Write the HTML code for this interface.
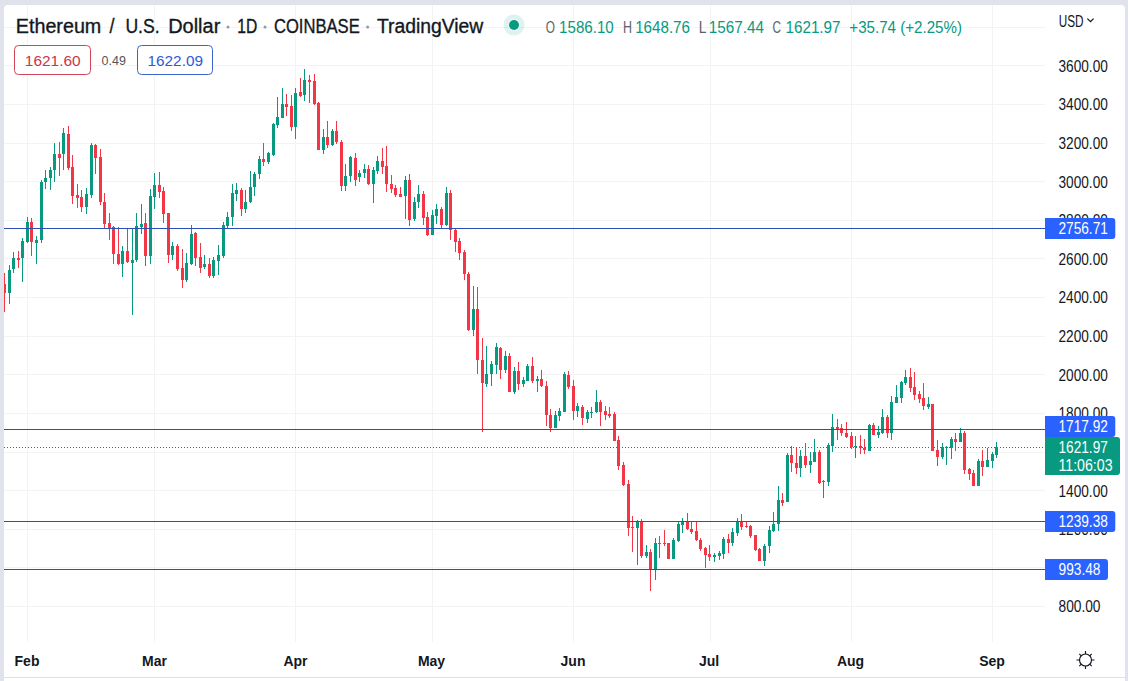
<!DOCTYPE html>
<html><head><meta charset="utf-8"><style>html,body{margin:0;padding:0;width:1128px;height:681px;overflow:hidden;background:#fff;position:relative}</style></head>
<body><svg width="1128" height="681" viewBox="0 0 1128 681" font-family='"Liberation Sans", sans-serif' style="position:absolute;left:0;top:0">
<rect x="0" y="0" width="1128" height="681" fill="#e0e3eb"/>
<path d="M4 9a4 4 0 0 1 4 -4h1113a4 4 0 0 1 4 4v672h-1121z" fill="#ffffff"/>
<rect x="4" y="606" width="1041" height="1" fill="#f3f3f3"/><rect x="4" y="567" width="1041" height="1" fill="#f3f3f3"/><rect x="4" y="529" width="1041" height="1" fill="#f3f3f3"/><rect x="4" y="490" width="1041" height="1" fill="#f3f3f3"/><rect x="4" y="452" width="1041" height="1" fill="#f3f3f3"/><rect x="4" y="413" width="1041" height="1" fill="#f3f3f3"/><rect x="4" y="374" width="1041" height="1" fill="#f3f3f3"/><rect x="4" y="336" width="1041" height="1" fill="#f3f3f3"/><rect x="4" y="297" width="1041" height="1" fill="#f3f3f3"/><rect x="4" y="258" width="1041" height="1" fill="#f3f3f3"/><rect x="4" y="220" width="1041" height="1" fill="#f3f3f3"/><rect x="4" y="181" width="1041" height="1" fill="#f3f3f3"/><rect x="4" y="143" width="1041" height="1" fill="#f3f3f3"/><rect x="4" y="104" width="1041" height="1" fill="#f3f3f3"/><rect x="4" y="65" width="1041" height="1" fill="#f3f3f3"/><rect x="4" y="27" width="1041" height="1" fill="#f3f3f3"/><rect x="27" y="5" width="1" height="637" fill="#f3f3f3"/><rect x="154" y="5" width="1" height="637" fill="#f3f3f3"/><rect x="295" y="5" width="1" height="637" fill="#f3f3f3"/><rect x="432" y="5" width="1" height="637" fill="#f3f3f3"/><rect x="573" y="5" width="1" height="637" fill="#f3f3f3"/><rect x="710" y="5" width="1" height="637" fill="#f3f3f3"/><rect x="851" y="5" width="1" height="637" fill="#f3f3f3"/><rect x="992" y="5" width="1" height="637" fill="#f3f3f3"/>
<rect x="4" y="677" width="1121" height="1" fill="#e0e1e4"/>
<text x="1058.5" y="71.7" font-size="16" fill="#131722" textLength="49.3" lengthAdjust="spacingAndGlyphs">3600.00</text><text x="1058.5" y="110.3" font-size="16" fill="#131722" textLength="49.3" lengthAdjust="spacingAndGlyphs">3400.00</text><text x="1058.5" y="148.9" font-size="16" fill="#131722" textLength="49.3" lengthAdjust="spacingAndGlyphs">3200.00</text><text x="1058.5" y="187.5" font-size="16" fill="#131722" textLength="49.3" lengthAdjust="spacingAndGlyphs">3000.00</text><text x="1058.5" y="226.2" font-size="16" fill="#131722" textLength="49.3" lengthAdjust="spacingAndGlyphs">2800.00</text><text x="1058.5" y="264.8" font-size="16" fill="#131722" textLength="49.3" lengthAdjust="spacingAndGlyphs">2600.00</text><text x="1058.5" y="303.4" font-size="16" fill="#131722" textLength="49.3" lengthAdjust="spacingAndGlyphs">2400.00</text><text x="1058.5" y="342.0" font-size="16" fill="#131722" textLength="49.3" lengthAdjust="spacingAndGlyphs">2200.00</text><text x="1058.5" y="380.6" font-size="16" fill="#131722" textLength="49.3" lengthAdjust="spacingAndGlyphs">2000.00</text><text x="1058.5" y="419.2" font-size="16" fill="#131722" textLength="49.3" lengthAdjust="spacingAndGlyphs">1800.00</text><text x="1058.5" y="496.5" font-size="16" fill="#131722" textLength="49.3" lengthAdjust="spacingAndGlyphs">1400.00</text><text x="1058.5" y="535.1" font-size="16" fill="#131722" textLength="49.3" lengthAdjust="spacingAndGlyphs">1200.00</text><text x="1058.5" y="612.3" font-size="16" fill="#131722" textLength="42.0" lengthAdjust="spacingAndGlyphs">800.00</text>
<line x1="4" y1="447.5" x2="1043" y2="447.5" stroke="#4a6660" stroke-width="1" stroke-dasharray="1 2"/>
<defs><clipPath id="ca"><rect x="4" y="5" width="1041" height="637"/></clipPath></defs><g clip-path="url(#ca)"><rect x="4" y="273" width="1" height="39" fill="#f23645"/><rect x="3" y="284" width="3" height="9" fill="#f23645"/><rect x="9" y="265" width="1" height="39" fill="#089981"/><rect x="8" y="270" width="3" height="23" fill="#089981"/><rect x="13" y="252" width="1" height="21" fill="#089981"/><rect x="12" y="258" width="3" height="11" fill="#089981"/><rect x="18" y="251" width="1" height="17" fill="#f23645"/><rect x="17" y="258" width="3" height="2" fill="#f23645"/><rect x="22" y="238" width="1" height="44" fill="#089981"/><rect x="21" y="241" width="3" height="17" fill="#089981"/><rect x="27" y="217" width="1" height="26" fill="#089981"/><rect x="26" y="222" width="3" height="20" fill="#089981"/><rect x="31" y="218" width="1" height="38" fill="#f23645"/><rect x="30" y="222" width="3" height="20" fill="#f23645"/><rect x="36" y="236" width="1" height="28" fill="#089981"/><rect x="35" y="240" width="3" height="3" fill="#089981"/><rect x="41" y="180" width="1" height="63" fill="#089981"/><rect x="40" y="182" width="3" height="58" fill="#089981"/><rect x="45" y="170" width="1" height="19" fill="#089981"/><rect x="44" y="178" width="3" height="4" fill="#089981"/><rect x="50" y="167" width="1" height="23" fill="#089981"/><rect x="49" y="170" width="3" height="8" fill="#089981"/><rect x="54" y="143" width="1" height="39" fill="#089981"/><rect x="53" y="154" width="3" height="16" fill="#089981"/><rect x="59" y="142" width="1" height="34" fill="#f23645"/><rect x="58" y="154" width="3" height="4" fill="#f23645"/><rect x="63" y="128" width="1" height="42" fill="#089981"/><rect x="62" y="133" width="3" height="21" fill="#089981"/><rect x="68" y="126" width="1" height="44" fill="#f23645"/><rect x="67" y="134" width="3" height="34" fill="#f23645"/><rect x="72" y="155" width="1" height="49" fill="#f23645"/><rect x="71" y="167" width="3" height="29" fill="#f23645"/><rect x="77" y="184" width="1" height="24" fill="#f23645"/><rect x="76" y="195" width="3" height="3" fill="#f23645"/><rect x="81" y="190" width="1" height="22" fill="#f23645"/><rect x="80" y="197" width="3" height="10" fill="#f23645"/><rect x="86" y="188" width="1" height="26" fill="#089981"/><rect x="85" y="194" width="3" height="13" fill="#089981"/><rect x="91" y="143" width="1" height="55" fill="#089981"/><rect x="90" y="145" width="3" height="50" fill="#089981"/><rect x="95" y="144" width="1" height="30" fill="#f23645"/><rect x="94" y="145" width="3" height="13" fill="#f23645"/><rect x="100" y="149" width="1" height="56" fill="#f23645"/><rect x="99" y="157" width="3" height="45" fill="#f23645"/><rect x="104" y="193" width="1" height="35" fill="#f23645"/><rect x="103" y="202" width="3" height="22" fill="#f23645"/><rect x="109" y="213" width="1" height="27" fill="#f23645"/><rect x="108" y="223" width="3" height="5" fill="#f23645"/><rect x="113" y="226" width="1" height="38" fill="#f23645"/><rect x="112" y="227" width="3" height="27" fill="#f23645"/><rect x="118" y="227" width="1" height="38" fill="#f23645"/><rect x="117" y="254" width="3" height="10" fill="#f23645"/><rect x="122" y="246" width="1" height="31" fill="#089981"/><rect x="121" y="251" width="3" height="13" fill="#089981"/><rect x="127" y="229" width="1" height="34" fill="#f23645"/><rect x="126" y="251" width="3" height="11" fill="#f23645"/><rect x="132" y="229" width="1" height="86" fill="#089981"/><rect x="131" y="260" width="3" height="3" fill="#089981"/><rect x="136" y="213" width="1" height="49" fill="#089981"/><rect x="135" y="226" width="3" height="34" fill="#089981"/><rect x="141" y="204" width="1" height="30" fill="#089981"/><rect x="140" y="224" width="3" height="3" fill="#089981"/><rect x="145" y="213" width="1" height="53" fill="#f23645"/><rect x="144" y="223" width="3" height="33" fill="#f23645"/><rect x="150" y="189" width="1" height="75" fill="#089981"/><rect x="149" y="196" width="3" height="60" fill="#089981"/><rect x="154" y="173" width="1" height="36" fill="#089981"/><rect x="153" y="185" width="3" height="12" fill="#089981"/><rect x="159" y="172" width="1" height="26" fill="#f23645"/><rect x="158" y="185" width="3" height="7" fill="#f23645"/><rect x="163" y="187" width="1" height="36" fill="#f23645"/><rect x="162" y="191" width="3" height="23" fill="#f23645"/><rect x="168" y="213" width="1" height="50" fill="#f23645"/><rect x="167" y="213" width="3" height="42" fill="#f23645"/><rect x="172" y="242" width="1" height="18" fill="#089981"/><rect x="171" y="246" width="3" height="9" fill="#089981"/><rect x="177" y="244" width="1" height="27" fill="#f23645"/><rect x="176" y="246" width="3" height="23" fill="#f23645"/><rect x="182" y="249" width="1" height="39" fill="#f23645"/><rect x="181" y="268" width="3" height="12" fill="#f23645"/><rect x="186" y="253" width="1" height="29" fill="#089981"/><rect x="185" y="263" width="3" height="17" fill="#089981"/><rect x="191" y="225" width="1" height="40" fill="#089981"/><rect x="190" y="234" width="3" height="30" fill="#089981"/><rect x="195" y="232" width="1" height="34" fill="#f23645"/><rect x="194" y="233" width="3" height="25" fill="#f23645"/><rect x="200" y="243" width="1" height="30" fill="#f23645"/><rect x="199" y="257" width="3" height="11" fill="#f23645"/><rect x="204" y="255" width="1" height="14" fill="#089981"/><rect x="203" y="264" width="3" height="3" fill="#089981"/><rect x="209" y="258" width="1" height="20" fill="#f23645"/><rect x="208" y="264" width="3" height="12" fill="#f23645"/><rect x="213" y="257" width="1" height="21" fill="#089981"/><rect x="212" y="260" width="3" height="16" fill="#089981"/><rect x="218" y="245" width="1" height="30" fill="#089981"/><rect x="217" y="255" width="3" height="6" fill="#089981"/><rect x="223" y="222" width="1" height="36" fill="#089981"/><rect x="222" y="225" width="3" height="31" fill="#089981"/><rect x="227" y="212" width="1" height="17" fill="#089981"/><rect x="226" y="217" width="3" height="9" fill="#089981"/><rect x="232" y="184" width="1" height="42" fill="#089981"/><rect x="231" y="193" width="3" height="24" fill="#089981"/><rect x="236" y="183" width="1" height="18" fill="#089981"/><rect x="235" y="190" width="3" height="4" fill="#089981"/><rect x="241" y="188" width="1" height="28" fill="#f23645"/><rect x="240" y="190" width="3" height="19" fill="#f23645"/><rect x="245" y="190" width="1" height="23" fill="#089981"/><rect x="244" y="202" width="3" height="7" fill="#089981"/><rect x="250" y="171" width="1" height="32" fill="#089981"/><rect x="249" y="187" width="3" height="15" fill="#089981"/><rect x="254" y="172" width="1" height="24" fill="#089981"/><rect x="253" y="174" width="3" height="13" fill="#089981"/><rect x="259" y="156" width="1" height="23" fill="#089981"/><rect x="258" y="159" width="3" height="15" fill="#089981"/><rect x="263" y="143" width="1" height="23" fill="#f23645"/><rect x="262" y="159" width="3" height="3" fill="#f23645"/><rect x="268" y="152" width="1" height="12" fill="#089981"/><rect x="267" y="153" width="3" height="9" fill="#089981"/><rect x="273" y="123" width="1" height="33" fill="#089981"/><rect x="272" y="124" width="3" height="31" fill="#089981"/><rect x="277" y="97" width="1" height="31" fill="#089981"/><rect x="276" y="117" width="3" height="8" fill="#089981"/><rect x="282" y="88" width="1" height="30" fill="#089981"/><rect x="281" y="104" width="3" height="14" fill="#089981"/><rect x="286" y="94" width="1" height="22" fill="#f23645"/><rect x="285" y="104" width="3" height="3" fill="#f23645"/><rect x="291" y="95" width="1" height="36" fill="#f23645"/><rect x="290" y="106" width="3" height="21" fill="#f23645"/><rect x="295" y="88" width="1" height="51" fill="#089981"/><rect x="294" y="93" width="3" height="34" fill="#089981"/><rect x="300" y="78" width="1" height="19" fill="#f23645"/><rect x="299" y="92" width="3" height="4" fill="#f23645"/><rect x="304" y="69" width="1" height="32" fill="#089981"/><rect x="303" y="80" width="3" height="15" fill="#089981"/><rect x="309" y="75" width="1" height="28" fill="#f23645"/><rect x="308" y="80" width="3" height="2" fill="#f23645"/><rect x="314" y="74" width="1" height="31" fill="#f23645"/><rect x="313" y="81" width="3" height="23" fill="#f23645"/><rect x="318" y="102" width="1" height="48" fill="#f23645"/><rect x="317" y="103" width="3" height="47" fill="#f23645"/><rect x="323" y="129" width="1" height="25" fill="#089981"/><rect x="322" y="137" width="3" height="13" fill="#089981"/><rect x="327" y="121" width="1" height="27" fill="#f23645"/><rect x="326" y="137" width="3" height="8" fill="#f23645"/><rect x="332" y="129" width="1" height="17" fill="#089981"/><rect x="331" y="131" width="3" height="14" fill="#089981"/><rect x="336" y="121" width="1" height="23" fill="#f23645"/><rect x="335" y="131" width="3" height="11" fill="#f23645"/><rect x="341" y="140" width="1" height="51" fill="#f23645"/><rect x="340" y="142" width="3" height="44" fill="#f23645"/><rect x="345" y="164" width="1" height="27" fill="#089981"/><rect x="344" y="176" width="3" height="10" fill="#089981"/><rect x="350" y="156" width="1" height="26" fill="#089981"/><rect x="349" y="157" width="3" height="19" fill="#089981"/><rect x="355" y="153" width="1" height="33" fill="#f23645"/><rect x="354" y="158" width="3" height="22" fill="#f23645"/><rect x="359" y="170" width="1" height="12" fill="#089981"/><rect x="358" y="173" width="3" height="4" fill="#089981"/><rect x="364" y="164" width="1" height="14" fill="#089981"/><rect x="363" y="169" width="3" height="4" fill="#089981"/><rect x="368" y="165" width="1" height="20" fill="#f23645"/><rect x="367" y="169" width="3" height="15" fill="#f23645"/><rect x="373" y="167" width="1" height="36" fill="#089981"/><rect x="372" y="170" width="3" height="14" fill="#089981"/><rect x="377" y="156" width="1" height="18" fill="#089981"/><rect x="376" y="161" width="3" height="10" fill="#089981"/><rect x="382" y="148" width="1" height="26" fill="#f23645"/><rect x="381" y="161" width="3" height="6" fill="#f23645"/><rect x="386" y="146" width="1" height="46" fill="#f23645"/><rect x="385" y="166" width="3" height="18" fill="#f23645"/><rect x="391" y="175" width="1" height="18" fill="#f23645"/><rect x="390" y="184" width="3" height="5" fill="#f23645"/><rect x="395" y="185" width="1" height="12" fill="#f23645"/><rect x="394" y="188" width="3" height="7" fill="#f23645"/><rect x="400" y="187" width="1" height="10" fill="#f23645"/><rect x="399" y="194" width="3" height="3" fill="#f23645"/><rect x="405" y="176" width="1" height="43" fill="#089981"/><rect x="404" y="180" width="3" height="16" fill="#089981"/><rect x="409" y="174" width="1" height="52" fill="#f23645"/><rect x="408" y="180" width="3" height="40" fill="#f23645"/><rect x="414" y="197" width="1" height="24" fill="#089981"/><rect x="413" y="202" width="3" height="17" fill="#089981"/><rect x="418" y="185" width="1" height="23" fill="#089981"/><rect x="417" y="194" width="3" height="8" fill="#089981"/><rect x="423" y="191" width="1" height="34" fill="#f23645"/><rect x="422" y="194" width="3" height="24" fill="#f23645"/><rect x="427" y="212" width="1" height="24" fill="#f23645"/><rect x="426" y="217" width="3" height="18" fill="#f23645"/><rect x="432" y="210" width="1" height="25" fill="#089981"/><rect x="431" y="215" width="3" height="20" fill="#089981"/><rect x="436" y="204" width="1" height="20" fill="#089981"/><rect x="435" y="209" width="3" height="7" fill="#089981"/><rect x="441" y="207" width="1" height="22" fill="#f23645"/><rect x="440" y="209" width="3" height="16" fill="#f23645"/><rect x="446" y="187" width="1" height="39" fill="#089981"/><rect x="445" y="193" width="3" height="32" fill="#089981"/><rect x="450" y="190" width="1" height="50" fill="#f23645"/><rect x="449" y="193" width="3" height="37" fill="#f23645"/><rect x="455" y="229" width="1" height="23" fill="#f23645"/><rect x="454" y="230" width="3" height="12" fill="#f23645"/><rect x="459" y="238" width="1" height="22" fill="#f23645"/><rect x="458" y="241" width="3" height="12" fill="#f23645"/><rect x="464" y="250" width="1" height="30" fill="#f23645"/><rect x="463" y="252" width="3" height="22" fill="#f23645"/><rect x="468" y="272" width="1" height="59" fill="#f23645"/><rect x="467" y="274" width="3" height="56" fill="#f23645"/><rect x="473" y="286" width="1" height="50" fill="#089981"/><rect x="472" y="309" width="3" height="21" fill="#089981"/><rect x="477" y="287" width="1" height="87" fill="#f23645"/><rect x="476" y="309" width="3" height="51" fill="#f23645"/><rect x="482" y="338" width="1" height="94" fill="#f23645"/><rect x="481" y="360" width="3" height="23" fill="#f23645"/><rect x="486" y="346" width="1" height="41" fill="#089981"/><rect x="485" y="374" width="3" height="10" fill="#089981"/><rect x="491" y="361" width="1" height="25" fill="#089981"/><rect x="490" y="364" width="3" height="10" fill="#089981"/><rect x="496" y="343" width="1" height="31" fill="#089981"/><rect x="495" y="347" width="3" height="18" fill="#089981"/><rect x="500" y="347" width="1" height="32" fill="#f23645"/><rect x="499" y="348" width="3" height="22" fill="#f23645"/><rect x="505" y="351" width="1" height="22" fill="#089981"/><rect x="504" y="356" width="3" height="14" fill="#089981"/><rect x="509" y="353" width="1" height="39" fill="#f23645"/><rect x="508" y="356" width="3" height="36" fill="#f23645"/><rect x="514" y="367" width="1" height="27" fill="#089981"/><rect x="513" y="371" width="3" height="21" fill="#089981"/><rect x="518" y="362" width="1" height="28" fill="#f23645"/><rect x="517" y="371" width="3" height="13" fill="#f23645"/><rect x="523" y="377" width="1" height="10" fill="#089981"/><rect x="522" y="380" width="3" height="4" fill="#089981"/><rect x="527" y="364" width="1" height="17" fill="#089981"/><rect x="526" y="366" width="3" height="15" fill="#089981"/><rect x="532" y="357" width="1" height="26" fill="#f23645"/><rect x="531" y="366" width="3" height="15" fill="#f23645"/><rect x="537" y="376" width="1" height="16" fill="#089981"/><rect x="536" y="379" width="3" height="2" fill="#089981"/><rect x="541" y="370" width="1" height="17" fill="#f23645"/><rect x="540" y="379" width="3" height="7" fill="#f23645"/><rect x="546" y="381" width="1" height="45" fill="#f23645"/><rect x="545" y="386" width="3" height="29" fill="#f23645"/><rect x="550" y="409" width="1" height="23" fill="#f23645"/><rect x="549" y="415" width="3" height="13" fill="#f23645"/><rect x="555" y="411" width="1" height="17" fill="#089981"/><rect x="554" y="415" width="3" height="13" fill="#089981"/><rect x="559" y="408" width="1" height="13" fill="#089981"/><rect x="558" y="411" width="3" height="5" fill="#089981"/><rect x="564" y="372" width="1" height="40" fill="#089981"/><rect x="563" y="374" width="3" height="38" fill="#089981"/><rect x="568" y="371" width="1" height="18" fill="#f23645"/><rect x="567" y="375" width="3" height="12" fill="#f23645"/><rect x="573" y="380" width="1" height="40" fill="#f23645"/><rect x="572" y="386" width="3" height="25" fill="#f23645"/><rect x="577" y="403" width="1" height="14" fill="#089981"/><rect x="576" y="406" width="3" height="5" fill="#089981"/><rect x="582" y="405" width="1" height="20" fill="#f23645"/><rect x="581" y="407" width="3" height="11" fill="#f23645"/><rect x="587" y="410" width="1" height="13" fill="#089981"/><rect x="586" y="412" width="3" height="7" fill="#089981"/><rect x="591" y="407" width="1" height="11" fill="#089981"/><rect x="590" y="412" width="3" height="1" fill="#089981"/><rect x="596" y="390" width="1" height="23" fill="#089981"/><rect x="595" y="402" width="3" height="10" fill="#089981"/><rect x="600" y="400" width="1" height="26" fill="#f23645"/><rect x="599" y="402" width="3" height="10" fill="#f23645"/><rect x="605" y="406" width="1" height="14" fill="#f23645"/><rect x="604" y="411" width="3" height="4" fill="#f23645"/><rect x="609" y="407" width="1" height="11" fill="#f23645"/><rect x="608" y="414" width="3" height="2" fill="#f23645"/><rect x="614" y="412" width="1" height="29" fill="#f23645"/><rect x="613" y="414" width="3" height="27" fill="#f23645"/><rect x="618" y="436" width="1" height="34" fill="#f23645"/><rect x="617" y="440" width="3" height="26" fill="#f23645"/><rect x="623" y="462" width="1" height="24" fill="#f23645"/><rect x="622" y="465" width="3" height="20" fill="#f23645"/><rect x="628" y="480" width="1" height="56" fill="#f23645"/><rect x="627" y="484" width="3" height="44" fill="#f23645"/><rect x="632" y="516" width="1" height="36" fill="#f23645"/><rect x="631" y="527" width="3" height="1" fill="#f23645"/><rect x="637" y="520" width="1" height="45" fill="#089981"/><rect x="636" y="521" width="3" height="7" fill="#089981"/><rect x="641" y="519" width="1" height="39" fill="#f23645"/><rect x="640" y="522" width="3" height="34" fill="#f23645"/><rect x="646" y="545" width="1" height="13" fill="#089981"/><rect x="645" y="552" width="3" height="4" fill="#089981"/><rect x="650" y="549" width="1" height="42" fill="#f23645"/><rect x="649" y="552" width="3" height="17" fill="#f23645"/><rect x="655" y="538" width="1" height="42" fill="#089981"/><rect x="654" y="543" width="3" height="26" fill="#089981"/><rect x="659" y="536" width="1" height="22" fill="#f23645"/><rect x="658" y="543" width="3" height="1" fill="#f23645"/><rect x="664" y="530" width="1" height="16" fill="#f23645"/><rect x="663" y="543" width="3" height="1" fill="#f23645"/><rect x="668" y="543" width="1" height="16" fill="#f23645"/><rect x="667" y="543" width="3" height="16" fill="#f23645"/><rect x="673" y="538" width="1" height="21" fill="#089981"/><rect x="672" y="540" width="3" height="19" fill="#089981"/><rect x="678" y="521" width="1" height="21" fill="#089981"/><rect x="677" y="524" width="3" height="17" fill="#089981"/><rect x="682" y="518" width="1" height="15" fill="#089981"/><rect x="681" y="522" width="3" height="3" fill="#089981"/><rect x="687" y="513" width="1" height="17" fill="#f23645"/><rect x="686" y="521" width="3" height="8" fill="#f23645"/><rect x="691" y="522" width="1" height="12" fill="#f23645"/><rect x="690" y="529" width="3" height="3" fill="#f23645"/><rect x="696" y="522" width="1" height="19" fill="#f23645"/><rect x="695" y="531" width="3" height="9" fill="#f23645"/><rect x="700" y="538" width="1" height="13" fill="#f23645"/><rect x="699" y="540" width="3" height="9" fill="#f23645"/><rect x="705" y="547" width="1" height="21" fill="#f23645"/><rect x="704" y="548" width="3" height="7" fill="#f23645"/><rect x="709" y="545" width="1" height="16" fill="#f23645"/><rect x="708" y="554" width="3" height="3" fill="#f23645"/><rect x="714" y="553" width="1" height="9" fill="#089981"/><rect x="713" y="555" width="3" height="2" fill="#089981"/><rect x="719" y="551" width="1" height="9" fill="#089981"/><rect x="718" y="553" width="3" height="3" fill="#089981"/><rect x="723" y="537" width="1" height="22" fill="#089981"/><rect x="722" y="539" width="3" height="15" fill="#089981"/><rect x="728" y="534" width="1" height="19" fill="#f23645"/><rect x="727" y="539" width="3" height="4" fill="#f23645"/><rect x="732" y="528" width="1" height="18" fill="#089981"/><rect x="731" y="532" width="3" height="11" fill="#089981"/><rect x="737" y="518" width="1" height="18" fill="#089981"/><rect x="736" y="521" width="3" height="12" fill="#089981"/><rect x="741" y="514" width="1" height="16" fill="#f23645"/><rect x="740" y="522" width="3" height="5" fill="#f23645"/><rect x="746" y="522" width="1" height="6" fill="#f23645"/><rect x="745" y="526" width="3" height="1" fill="#f23645"/><rect x="750" y="525" width="1" height="13" fill="#f23645"/><rect x="749" y="526" width="3" height="10" fill="#f23645"/><rect x="755" y="535" width="1" height="16" fill="#f23645"/><rect x="754" y="535" width="3" height="15" fill="#f23645"/><rect x="759" y="548" width="1" height="13" fill="#f23645"/><rect x="758" y="549" width="3" height="12" fill="#f23645"/><rect x="764" y="544" width="1" height="22" fill="#089981"/><rect x="763" y="546" width="3" height="15" fill="#089981"/><rect x="769" y="526" width="1" height="27" fill="#089981"/><rect x="768" y="530" width="3" height="16" fill="#089981"/><rect x="773" y="512" width="1" height="20" fill="#089981"/><rect x="772" y="524" width="3" height="7" fill="#089981"/><rect x="778" y="486" width="1" height="45" fill="#089981"/><rect x="777" y="500" width="3" height="24" fill="#089981"/><rect x="782" y="493" width="1" height="13" fill="#f23645"/><rect x="781" y="500" width="3" height="3" fill="#f23645"/><rect x="787" y="453" width="1" height="49" fill="#089981"/><rect x="786" y="455" width="3" height="47" fill="#089981"/><rect x="791" y="446" width="1" height="26" fill="#f23645"/><rect x="790" y="455" width="3" height="8" fill="#f23645"/><rect x="796" y="448" width="1" height="26" fill="#f23645"/><rect x="795" y="463" width="3" height="5" fill="#f23645"/><rect x="800" y="450" width="1" height="27" fill="#089981"/><rect x="799" y="456" width="3" height="12" fill="#089981"/><rect x="805" y="443" width="1" height="25" fill="#f23645"/><rect x="804" y="456" width="3" height="9" fill="#f23645"/><rect x="810" y="452" width="1" height="21" fill="#089981"/><rect x="809" y="461" width="3" height="4" fill="#089981"/><rect x="814" y="439" width="1" height="23" fill="#089981"/><rect x="813" y="452" width="3" height="10" fill="#089981"/><rect x="819" y="450" width="1" height="34" fill="#f23645"/><rect x="818" y="452" width="3" height="31" fill="#f23645"/><rect x="823" y="480" width="1" height="18" fill="#089981"/><rect x="822" y="481" width="3" height="1" fill="#089981"/><rect x="828" y="443" width="1" height="43" fill="#089981"/><rect x="827" y="445" width="3" height="37" fill="#089981"/><rect x="832" y="414" width="1" height="38" fill="#089981"/><rect x="831" y="427" width="3" height="19" fill="#089981"/><rect x="837" y="419" width="1" height="21" fill="#f23645"/><rect x="836" y="427" width="3" height="2" fill="#f23645"/><rect x="841" y="424" width="1" height="12" fill="#f23645"/><rect x="840" y="428" width="3" height="5" fill="#f23645"/><rect x="846" y="422" width="1" height="16" fill="#f23645"/><rect x="845" y="433" width="3" height="4" fill="#f23645"/><rect x="851" y="432" width="1" height="17" fill="#f23645"/><rect x="850" y="436" width="3" height="11" fill="#f23645"/><rect x="855" y="436" width="1" height="22" fill="#089981"/><rect x="854" y="446" width="3" height="1" fill="#089981"/><rect x="860" y="435" width="1" height="19" fill="#f23645"/><rect x="859" y="446" width="3" height="2" fill="#f23645"/><rect x="864" y="439" width="1" height="15" fill="#f23645"/><rect x="863" y="448" width="3" height="2" fill="#f23645"/><rect x="869" y="424" width="1" height="27" fill="#089981"/><rect x="868" y="425" width="3" height="26" fill="#089981"/><rect x="873" y="423" width="1" height="12" fill="#f23645"/><rect x="872" y="425" width="3" height="10" fill="#f23645"/><rect x="878" y="426" width="1" height="12" fill="#089981"/><rect x="877" y="432" width="3" height="3" fill="#089981"/><rect x="882" y="409" width="1" height="25" fill="#089981"/><rect x="881" y="417" width="3" height="16" fill="#089981"/><rect x="887" y="415" width="1" height="23" fill="#f23645"/><rect x="886" y="417" width="3" height="16" fill="#f23645"/><rect x="891" y="396" width="1" height="44" fill="#089981"/><rect x="890" y="402" width="3" height="31" fill="#089981"/><rect x="896" y="385" width="1" height="18" fill="#089981"/><rect x="895" y="397" width="3" height="6" fill="#089981"/><rect x="901" y="381" width="1" height="22" fill="#089981"/><rect x="900" y="382" width="3" height="16" fill="#089981"/><rect x="905" y="370" width="1" height="15" fill="#089981"/><rect x="904" y="377" width="3" height="6" fill="#089981"/><rect x="910" y="368" width="1" height="24" fill="#f23645"/><rect x="909" y="377" width="3" height="11" fill="#f23645"/><rect x="914" y="372" width="1" height="28" fill="#f23645"/><rect x="913" y="387" width="3" height="8" fill="#f23645"/><rect x="919" y="391" width="1" height="12" fill="#f23645"/><rect x="918" y="394" width="3" height="5" fill="#f23645"/><rect x="923" y="383" width="1" height="27" fill="#f23645"/><rect x="922" y="398" width="3" height="8" fill="#f23645"/><rect x="928" y="397" width="1" height="12" fill="#089981"/><rect x="927" y="404" width="3" height="3" fill="#089981"/><rect x="932" y="404" width="1" height="47" fill="#f23645"/><rect x="931" y="404" width="3" height="47" fill="#f23645"/><rect x="937" y="440" width="1" height="26" fill="#f23645"/><rect x="936" y="450" width="3" height="7" fill="#f23645"/><rect x="942" y="443" width="1" height="16" fill="#089981"/><rect x="941" y="447" width="3" height="10" fill="#089981"/><rect x="946" y="446" width="1" height="19" fill="#089981"/><rect x="945" y="447" width="3" height="1" fill="#089981"/><rect x="951" y="437" width="1" height="22" fill="#089981"/><rect x="950" y="439" width="3" height="9" fill="#089981"/><rect x="955" y="433" width="1" height="18" fill="#f23645"/><rect x="954" y="439" width="3" height="3" fill="#f23645"/><rect x="960" y="428" width="1" height="14" fill="#089981"/><rect x="959" y="433" width="3" height="9" fill="#089981"/><rect x="964" y="431" width="1" height="43" fill="#f23645"/><rect x="963" y="433" width="3" height="37" fill="#f23645"/><rect x="969" y="468" width="1" height="12" fill="#f23645"/><rect x="968" y="469" width="3" height="5" fill="#f23645"/><rect x="973" y="470" width="1" height="16" fill="#f23645"/><rect x="972" y="473" width="3" height="13" fill="#f23645"/><rect x="978" y="459" width="1" height="27" fill="#089981"/><rect x="977" y="461" width="3" height="25" fill="#089981"/><rect x="982" y="450" width="1" height="26" fill="#f23645"/><rect x="981" y="461" width="3" height="6" fill="#f23645"/><rect x="987" y="448" width="1" height="19" fill="#089981"/><rect x="986" y="460" width="3" height="7" fill="#089981"/><rect x="992" y="452" width="1" height="16" fill="#089981"/><rect x="991" y="454" width="3" height="7" fill="#089981"/><rect x="996" y="442" width="1" height="16" fill="#089981"/><rect x="995" y="447" width="3" height="8" fill="#089981"/></g>
<rect x="4" y="228" width="1041" height="1" fill="#2b4fb5"/><path d="M1045 218H1112.3a3 3 0 0 1 3 3v15a3 3 0 0 1 -3 3H1045z" fill="#2962ff"/><text x="1058.5" y="234.3" font-size="16" fill="#fff" textLength="49.3" lengthAdjust="spacingAndGlyphs">2756.71</text><rect x="4" y="521" width="1041" height="1" fill="#2b4fb5"/><path d="M1045 511H1112.3a3 3 0 0 1 3 3v15a3 3 0 0 1 -3 3H1045z" fill="#2962ff"/><text x="1058.5" y="527.3" font-size="16" fill="#fff" textLength="49.3" lengthAdjust="spacingAndGlyphs">1239.38</text><rect x="4" y="569" width="1041" height="1" fill="#2b4fb5"/><path d="M1045 559H1105.0a3 3 0 0 1 3 3v15a3 3 0 0 1 -3 3H1045z" fill="#2962ff"/><text x="1058.5" y="575.3" font-size="16" fill="#fff" textLength="42.0" lengthAdjust="spacingAndGlyphs">993.48</text>
<path d="M1045 437h72a3 3 0 0 1 3 3v32a3 3 0 0 1 -3 3h-72z" fill="#089981"/><text x="1058.5" y="453" font-size="16" fill="#fff" textLength="49.3" lengthAdjust="spacingAndGlyphs">1621.97</text><text x="1058.5" y="470.5" font-size="16" fill="#fff" textLength="54" lengthAdjust="spacingAndGlyphs">11:06:03</text>
<rect x="4" y="429" width="1041" height="1" fill="#2b4fb5"/><path d="M1045 416H1112.3a3 3 0 0 1 3 3v15a3 3 0 0 1 -3 3H1045z" fill="#2962ff"/><text x="1058.5" y="432.3" font-size="16" fill="#fff" textLength="49.3" lengthAdjust="spacingAndGlyphs">1717.92</text>
<text x="27" y="666" text-anchor="middle" font-size="14" font-weight="bold" fill="#131722">Feb</text><text x="154.5" y="666" text-anchor="middle" font-size="14" font-weight="bold" fill="#131722">Mar</text><text x="295.5" y="666" text-anchor="middle" font-size="14" font-weight="bold" fill="#131722">Apr</text><text x="431.5" y="666" text-anchor="middle" font-size="14" font-weight="bold" fill="#131722">May</text><text x="573" y="666" text-anchor="middle" font-size="14" font-weight="bold" fill="#131722">Jun</text><text x="709" y="666" text-anchor="middle" font-size="14" font-weight="bold" fill="#131722">Jul</text><text x="850.5" y="666" text-anchor="middle" font-size="14" font-weight="bold" fill="#131722">Aug</text><text x="992" y="666" text-anchor="middle" font-size="14" font-weight="bold" fill="#131722">Sep</text>
<g fill="#131722" font-size="20" stroke="#131722" stroke-width="0.35">
<text x="15.8" y="33" textLength="85.5" lengthAdjust="spacingAndGlyphs">Ethereum</text><text x="109.6" y="33" textLength="5" lengthAdjust="spacingAndGlyphs">/</text><text x="125.4" y="33" textLength="34.2" lengthAdjust="spacingAndGlyphs">U.S.</text><text x="168.2" y="33" textLength="52.1" lengthAdjust="spacingAndGlyphs">Dollar</text>
<text x="237.2" y="33" textLength="20" lengthAdjust="spacingAndGlyphs">1D</text>
<text x="274" y="33" textLength="85.7" lengthAdjust="spacingAndGlyphs">COINBASE</text>
<text x="377" y="33" textLength="106.3" lengthAdjust="spacingAndGlyphs">TradingView</text>
</g>
<circle cx="228" cy="27" r="1.5" fill="#9598a1"/>
<circle cx="265" cy="27" r="1.5" fill="#9598a1"/>
<circle cx="367.6" cy="27" r="1.5" fill="#9598a1"/>
<circle cx="514" cy="25" r="10.5" fill="#089981" fill-opacity="0.13"/><circle cx="514" cy="25" r="6" fill="#f0fbf8"/>
<circle cx="514" cy="25" r="5" fill="#089981"/>
<g font-size="16">
<text x="545.7" y="33" fill="#5d606b" textLength="9.2" lengthAdjust="spacingAndGlyphs">O</text><text x="559.1" y="33" fill="#089981" textLength="54.7" lengthAdjust="spacingAndGlyphs">1586.10</text>
<text x="623" y="33" fill="#5d606b" textLength="9" lengthAdjust="spacingAndGlyphs">H</text><text x="635.2" y="33" fill="#089981" textLength="54.8" lengthAdjust="spacingAndGlyphs">1648.76</text>
<text x="698.8" y="33" fill="#5d606b" textLength="7.7" lengthAdjust="spacingAndGlyphs">L</text><text x="708.8" y="33" fill="#089981" textLength="55.1" lengthAdjust="spacingAndGlyphs">1567.44</text>
<text x="772.5" y="33" fill="#5d606b" textLength="8.5" lengthAdjust="spacingAndGlyphs">C</text><text x="785.5" y="33" fill="#089981" textLength="55" lengthAdjust="spacingAndGlyphs">1621.97</text>
<text x="849.3" y="33" fill="#089981" textLength="112.7" lengthAdjust="spacingAndGlyphs">+35.74 (+2.25%)</text>
</g>
<text x="1058.8" y="27" font-size="16" fill="#131722" textLength="24.8" lengthAdjust="spacingAndGlyphs">USD</text>
<path d="M1087.4 18.6l3.1 3l3.1 -3" fill="none" stroke="#131722" stroke-width="1.3"/>
<rect x="14.5" y="45.5" width="76" height="29" rx="4" fill="#fff" stroke="#cf4456" stroke-width="1"/>
<text x="24.8" y="66" font-size="15" fill="#c93548" textLength="55.8" lengthAdjust="spacingAndGlyphs">1621.60</text>
<text x="101.6" y="64.7" font-size="13" fill="#555" textLength="24.4" lengthAdjust="spacingAndGlyphs">0.49</text>
<rect x="137.5" y="45.5" width="75" height="29" rx="4" fill="#fff" stroke="#3a64cc" stroke-width="1"/>
<text x="147.5" y="66" font-size="15" fill="#2a5bd7" textLength="55.5" lengthAdjust="spacingAndGlyphs">1622.09</text>
<g transform="translate(1085.5,660)" stroke="#131722" stroke-width="1.15" fill="none">
<circle r="6"/>
<path d="M0 -6v-3M0 6v3M-6 0h-3M6 0h3M4.2 -4.2l2 -2M-4.2 4.2l-2 2M4.2 4.2l2 2M-4.2 -4.2l-2 -2"/>
</g>
</svg></body></html>
